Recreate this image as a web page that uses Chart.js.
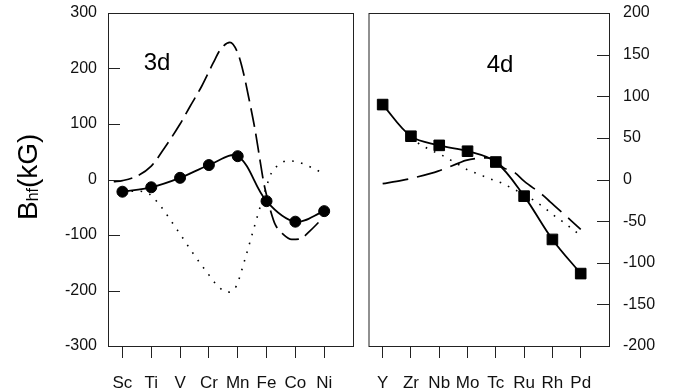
<!DOCTYPE html>
<html>
<head>
<meta charset="utf-8">
<script src="https://cdn.jsdelivr.net/npm/chart.js@4.4.1/dist/chart.umd.min.js"></script>
<style>
  html, body { margin: 0; padding: 0; background: #fff; }
  #wrap { position: relative; width: 684px; height: 392px; }
  canvas { position: absolute; top: 0; }
  #left { left: 0; }
  #right { left: 360px; }
</style>
</head>
<body>
<div id="wrap">
  <canvas id="left" width="360" height="392"></canvas>
  <canvas id="right" width="324" height="392"></canvas>
</div>
<script>
// 3d panel
const labels3d = ['Sc', 'Ti', 'V', 'Cr', 'Mn', 'Fe', 'Co', 'Ni'];
const hf3d = [-22, -14, 3, 26, 42, -39, -76, -57];
const dash3dX = [-0.3, 0, 0.5, 1, 1.5, 2, 2.35, 2.75, 3.15, 3.4, 3.73, 4.0, 4.2, 4.42, 4.6, 4.77, 4.9, 5.0, 5.15, 5.3, 5.58, 5.87, 6.16, 6.5, 6.85];
const dash3dY = [-4, -2, 6, 24, 60, 100, 132, 168, 210, 234, 247, 228, 192, 138, 90, 36, -5, -28, -58, -81, -99, -108, -107, -93, -75];
const dot3dX = [0, 0.5, 0.93, 1.2, 1.43, 1.64, 2.05, 2.45, 2.9, 3.37, 3.66, 3.95, 4.25, 4.5, 4.77, 5.06, 5.17, 5.44, 5.73, 6.04, 6.33, 6.62, 6.94];
const dot3dY = [-22, -21, -26, -40, -55, -71, -102, -133, -165, -195, -203, -192, -144, -99, -51, -3, 12, 27, 34, 32, 27, 20, 12];

// 4d panel
const labels4d = ['Y', 'Zr', 'Nb', 'Mo', 'Tc', 'Ru', 'Rh', 'Pd'];
const hf4d = [90, 52, 41, 34, 21, -20, -72, -113];
const dash4dX = [0, 0.68, 0.97, 1.67, 1.96, 2.71, 2.94, 3.7, 4.0, 4.28, 4.68, 5.0, 5.67, 5.92, 6.65, 7.0];
const dash4dY = [-5, -1, 1, 7, 10, 20, 23, 26, 22, 14, 8, -2, -19, -27, -49, -60];
const dot4dX = [1, 1.2, 1.49, 1.78, 2.1, 2.42, 2.73, 3.04, 3.35, 3.64, 3.93, 4.2, 4.54, 5.0, 5.43, 5.75, 6.05, 6.34, 6.65, 6.94];
const dot4dY = [51, 45, 39, 34, 29, 23, 17, 11, 7, 3, -1, -4, -10, -18, -27, -35, -43, -50, -58, -66];

const ticks3d = { min: -300, max: 300, step: 100 };
const ticks4d = { min: -200, max: 200, step: 50 };

Chart.defaults.font.family = 'Liberation Sans, Arial, sans-serif';
Chart.defaults.color = '#111';

const pts = (xs, ys) => xs.map((x, i) => ({ x: x, y: ys[i] }));

function frame(side, text, tx, ty) {
  return {
    id: 'frame',
    afterDraw(chart) {
      const { ctx, chartArea: a } = chart;
      const y = chart.scales.y;
      ctx.save();
      ctx.strokeStyle = '#222';
      ctx.lineWidth = 1;
      ctx.strokeRect(a.left + 0.5, a.top + 0.5, a.right - a.left, a.bottom - a.top);
      ctx.beginPath();
      y.ticks.forEach(t => {
        const py = Math.round(y.getPixelForValue(t.value)) + 0.5;
        if (side === 'left') { ctx.moveTo(a.left, py); ctx.lineTo(a.left + 12, py); }
        else { ctx.moveTo(a.right, py); ctx.lineTo(a.right - 12, py); }
      });
      ctx.stroke();
      ctx.fillStyle = '#000';
      ctx.font = '24px Liberation Sans, Arial';
      ctx.textAlign = 'center';
      ctx.textBaseline = 'middle';
      ctx.fillText(text, tx, ty);
      ctx.restore();
    }
  };
}

const yTitle = {
  id: 'yTitle',
  afterDraw(chart) {
    const ctx = chart.ctx;
    ctx.save();
    ctx.translate(37, 220);
    ctx.rotate(-Math.PI / 2);
    ctx.fillStyle = '#000';
    ctx.textBaseline = 'alphabetic';
    ctx.textAlign = 'left';
    ctx.font = '28px Liberation Sans, Arial';
    ctx.fillText('B', 0, 0);
    let w = ctx.measureText('B').width;
    ctx.font = '16px Liberation Sans, Arial';
    ctx.fillText('hf', w, 1);
    w += ctx.measureText('hf').width;
    ctx.font = '28px Liberation Sans, Arial';
    ctx.fillText('(kG)', w, 0);
    ctx.restore();
  }
};

function makeChart(id, labels, main, dashX, dashY, dotX, dotY, yr, side, dashPat, pointStyle, pointRadius, plugins, padding, yWidth, tickGap) {
  return new Chart(document.getElementById(id), {
    type: 'line',
    data: {
      datasets: [
        {
          data: labels.map((_, i) => ({ x: i, y: main[i] })),
          borderColor: '#000', backgroundColor: '#000',
          borderWidth: 1.8, pointRadius: pointRadius, pointStyle: pointStyle,
          pointBorderWidth: 1, tension: 0.35
        },
        {
          data: pts(dashX, dashY),
          borderColor: '#000', borderWidth: 1.7, borderDash: dashPat,
          pointRadius: 0, cubicInterpolationMode: 'monotone'
        },
        {
          data: pts(dotX, dotY),
          borderColor: '#000', borderWidth: 1.6, borderDash: [1.6, 7.5],
          pointRadius: 0, cubicInterpolationMode: 'monotone'
        }
      ]
    },
    options: {
      responsive: false,
      animation: false,
      events: [],
      layout: { padding: padding },
      plugins: { legend: { display: false }, tooltip: { enabled: false } },
      scales: {
        x: {
          type: 'linear', min: -0.5, max: 8,
          afterBuildTicks: s => { s.ticks = labels.map((_, i) => ({ value: i })); },
          afterFit: s => { s.height = 46; },
          ticks: {
            autoSkip: false, maxRotation: 0, padding: 15,
            font: { size: 17 }, color: '#111',
            callback: v => labels[v]
          },
          grid: { drawOnChartArea: false, tickLength: 12, color: '#222' },
          border: { display: false }
        },
        y: {
          position: side,
          min: yr.min, max: yr.max,
          afterFit: s => { s.width = yWidth; },
          ticks: { stepSize: yr.step, padding: 2, font: { size: 16 }, color: '#111' },
          grid: { display: false, drawTicks: true, tickLength: tickGap },
          border: { display: false }
        }
      }
    },
    plugins: plugins
  });
}

makeChart('left', labels3d, hf3d, dash3dX, dash3dY, dot3dX, dot3dY, ticks3d, 'left',
  [19, 7], 'circle', 5.5, [frame('left', '3d', 157, 63), yTitle],
  { top: 13, right: 7, left: 0, bottom: 0 }, 108, 9);

makeChart('right', labels4d, hf4d, dash4dX, dash4dY, dot4dX, dot4dY, ticks4d, 'right',
  [26, 9], 'rect', 7.5, [frame('right', '4d', 140, 65)],
  { top: 13, right: 0, left: 4, bottom: 0 }, 75, 12);
</script>
</body>
</html>
